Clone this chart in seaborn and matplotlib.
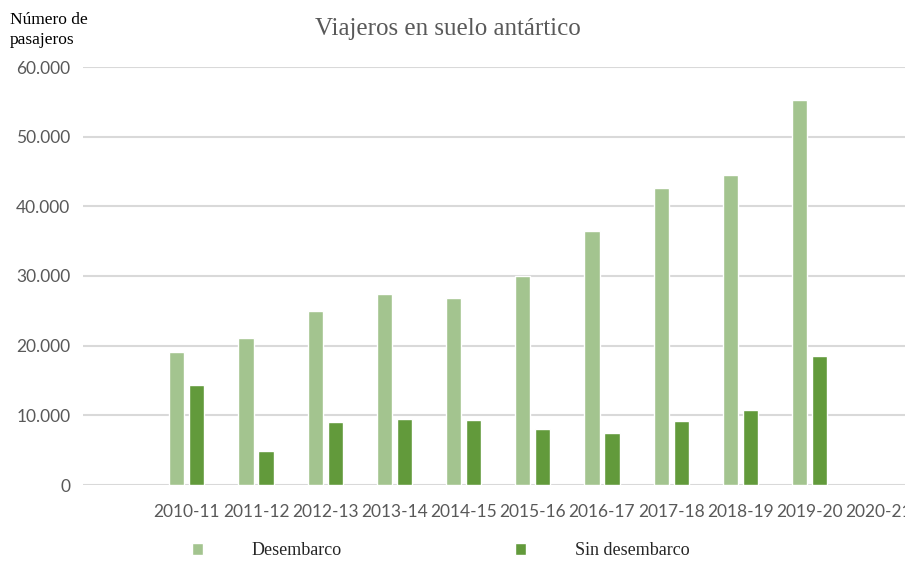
# -*- coding: utf-8 -*-
import matplotlib
matplotlib.use('Agg')
import matplotlib.pyplot as plt
import matplotlib.ticker as mticker
import seaborn as sns
import pandas as pd
import numpy as np

sns.set_style('white')
plt.rcParams['font.family'] = ['Lato', 'DejaVu Sans']

# datos
temporadas = ['2010-11', '2011-12', '2012-13', '2013-14', '2014-15', '2015-16',
              '2016-17', '2017-18', '2018-19', '2019-20', '2020-21']
desembarco = [19100, 21100, 25000, 27400, 26800, 30000, 36450, 42600, 44500, 55200, np.nan]
sin_desembarco = [14350, 4850, 9000, 9500, 9400, 8000, 7400, 9200, 10800, 18500, np.nan]
series = ['Desembarco', 'Sin desembarco']
colores = ['#A3C48F', '#629A3B']
y_ticks = [0, 10000, 20000, 30000, 40000, 50000, 60000]

df = pd.DataFrame({
    'temporada': temporadas * 2,
    'pasajeros': desembarco + sin_desembarco,
    'tipo': [series[0]] * len(temporadas) + [series[1]] * len(temporadas),
})

fig = plt.figure(figsize=(9.05, 5.63), dpi=100)
# plot area runs past the right edge like the cropped original
ax = fig.add_axes([83 / 905, 78 / 563, 830.4 / 905, 418 / 563])

sns.barplot(data=df, x='temporada', y='pasajeros', hue='tipo', order=temporadas,
            hue_order=series, palette=colores, saturation=1, width=0.58, gap=0.24,
            errorbar=None, ax=ax)

ax.set_xlim(-1.5, 10.5)
ax.set_ylim(0, 60000)
ax.set_yticks(y_ticks)
ax.yaxis.set_major_formatter(mticker.FuncFormatter(lambda v, p: '{:,.0f}'.format(v).replace(',', '.')))
ax.yaxis.grid(True, color='#D9D9D9', linewidth=1.5)
ax.set_axisbelow(True)
sns.despine(ax=ax, left=True, top=True, right=True, bottom=True)
ax.tick_params(axis='both', length=0, colors='#595959', labelsize=12.5)
ax.tick_params(axis='y', pad=9)
ax.tick_params(axis='x', pad=14)
ax.set_xlabel('')
ax.set_ylabel('')

handles, labels = ax.get_legend_handles_labels()
ax.get_legend().remove()
fig.legend(handles, labels, loc='center', bbox_to_anchor=(0.487, 0.022), ncol=2,
           frameon=False, handlelength=0.62, handleheight=0.62, handletextpad=2.7,
           columnspacing=9.6, prop={'family': 'Liberation Serif', 'size': 13})

fig.text(0.495, 0.948, 'Viajeros en suelo antártico', ha='center', va='center',
         family='Liberation Serif', fontsize=18, color='#595959')
fig.text(10 / 905, 1 - 12 / 563, 'Número de\npasajeros', ha='left', va='top',
         family='Liberation Serif', fontsize=12.5, color='black', linespacing=1.3)

fig.savefig('out.png', dpi=100)
